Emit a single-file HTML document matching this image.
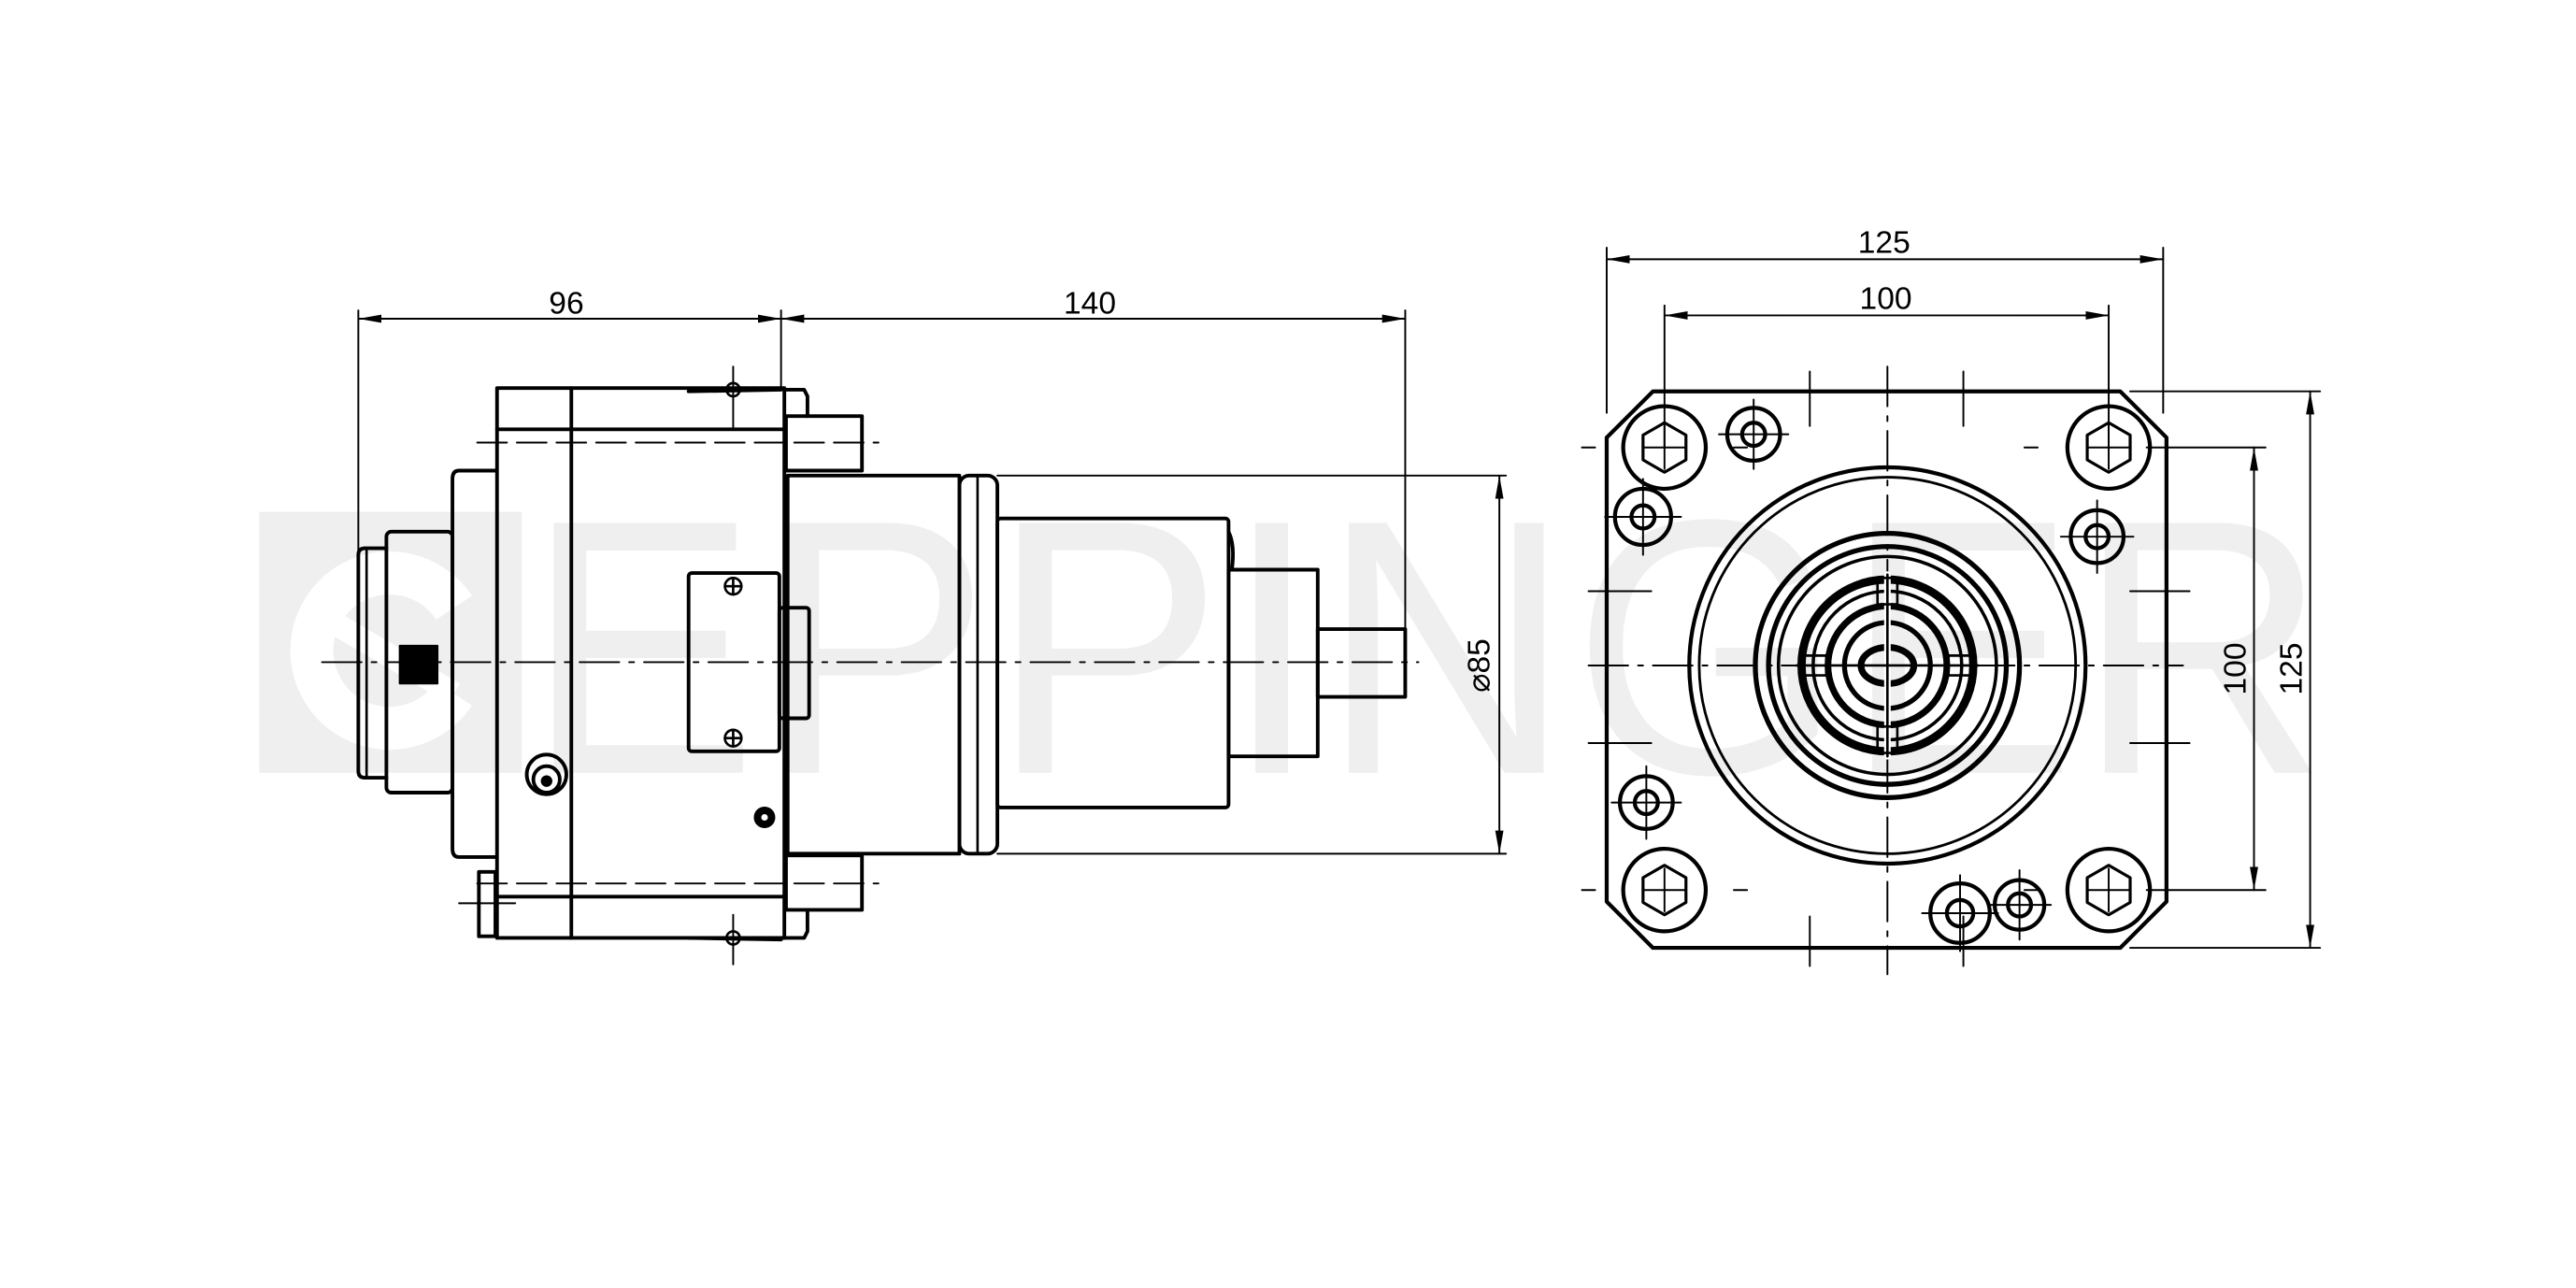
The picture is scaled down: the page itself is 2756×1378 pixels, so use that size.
<!DOCTYPE html>
<html><head><meta charset="utf-8"><style>html,body{margin:0;padding:0;background:#fff;}svg{display:block;}</style></head>
<body>
<svg width="2756" height="1378" viewBox="0 0 1560 780" xmlns="http://www.w3.org/2000/svg">
<defs>
<marker id="a" viewBox="0 0 14 6" refX="14" refY="3" markerWidth="14" markerHeight="6" markerUnits="userSpaceOnUse" orient="auto-start-reverse"><path d="M0,0.5 L14,3 L0,5.5 Z" fill="#000"/></marker>
</defs>
<rect width="1560" height="780" fill="#fff"/>
<!-- watermark -->
<g fill="#efefef">
<rect x="157" y="310" width="159" height="158"/>
<text x="318" y="468" font-family="Liberation Sans, sans-serif" font-size="220" textLength="1092" lengthAdjust="spacingAndGlyphs">EPPINGER</text>
</g>
<path d="M275,368 A47,47 0 1 0 275,420" fill="none" stroke="#fff" stroke-width="26"/>
<path d="M190,370 L275,420" stroke="#fff" stroke-width="14"/>

<g fill="none" stroke="#000" stroke-linecap="round" stroke-linejoin="round">
<!-- LEFT VIEW dims -->
<g stroke-width="1.1">
<line x1="217" y1="188" x2="217" y2="400"/>
<line x1="473" y1="188" x2="473" y2="236"/>
<line x1="851" y1="188" x2="851" y2="398"/>
<line x1="217" y1="193" x2="473" y2="193" marker-start="url(#a)" marker-end="url(#a)"/>
<line x1="473" y1="193" x2="851" y2="193" marker-start="url(#a)" marker-end="url(#a)"/>
<line x1="604" y1="288" x2="912" y2="288"/>
<line x1="604" y1="517" x2="912" y2="517"/>
<line x1="908" y1="288" x2="908" y2="517" marker-start="url(#a)" marker-end="url(#a)"/>
<line x1="195" y1="401" x2="859" y2="401" stroke-dasharray="24,6,3,6"/>
<line x1="289" y1="268" x2="532" y2="268" stroke-dasharray="18,6"/>
<line x1="289" y1="535" x2="532" y2="535" stroke-dasharray="18,6"/>
<line x1="444" y1="222" x2="444" y2="260"/>
<line x1="444" y1="554" x2="444" y2="584"/>
<line x1="278" y1="547" x2="312" y2="547"/>
</g>
<g stroke-width="2.2">
<rect x="301" y="235" width="174" height="333"/>
<line x1="346" y1="235" x2="346" y2="568"/>
<line x1="301" y1="260" x2="475" y2="260"/>
<line x1="301" y1="543" x2="475" y2="543"/>
<path d="M417,237 L473,236"/>
<path d="M417,568 L473,569"/>
<path d="M475,236 L487,236 L489,240 L489,252"/>
<path d="M475,568 L487,568 L489,564 L489,551"/>
<rect x="476" y="252" width="46" height="33"/>
<rect x="476" y="518" width="46" height="33"/>
<path d="M300,285 L278,285 Q274,285 274,290 L274,514 Q274,519 278,519 L300,519"/>
<rect x="234" y="322" width="40" height="158" rx="3"/>
<path d="M234,332 L221,332 Q217,332 217,336 L217,467 Q217,471 221,471 L234,471"/>
<line x1="222" y1="333" x2="222" y2="470" stroke-width="1.5"/>
<rect x="290" y="528" width="10" height="39"/>
<rect x="477" y="288" width="104" height="229"/>
<rect x="581" y="288" width="23" height="229" rx="6"/>
<line x1="592" y1="289" x2="592" y2="516" stroke-width="1.5"/>
<rect x="604" y="314" width="140" height="175" rx="2"/>
<path d="M744,322 Q748,330 746,345"/>
<rect x="744" y="345" width="54" height="113"/>
<rect x="798" y="381" width="53" height="41"/>
<rect x="417" y="347" width="55" height="108" rx="2"/>
<rect x="472" y="368" width="18" height="67" rx="2"/>
<circle cx="331" cy="469" r="12"/>
<circle cx="331" cy="472" r="8"/>
</g>
<circle cx="463" cy="495" r="6" fill="#000"/>
<rect x="242" y="391" width="23" height="23" fill="#000"/>
<g stroke-width="1.5">
<circle cx="444" cy="355" r="5"/><circle cx="444" cy="447" r="5"/>
<circle cx="444" cy="236" r="4"/><circle cx="444" cy="568" r="4"/>
<path d="M439,355h10M444,350v10M439,447h10M444,442v10"/>
</g>
<circle cx="331" cy="473" r="3" fill="#000"/>
<circle cx="463" cy="495" r="2" fill="#fff" stroke="none"/>

<!-- RIGHT VIEW dims -->
<g stroke-width="1.1">
<line x1="973" y1="150" x2="973" y2="250"/>
<line x1="1310" y1="150" x2="1310" y2="250"/>
<line x1="1008" y1="185" x2="1008" y2="271"/>
<line x1="1277" y1="185" x2="1277" y2="271"/>
<line x1="973" y1="157" x2="1310" y2="157" marker-start="url(#a)" marker-end="url(#a)"/>
<line x1="1008" y1="191" x2="1277" y2="191" marker-start="url(#a)" marker-end="url(#a)"/>
<line x1="1290" y1="237" x2="1405" y2="237"/>
<line x1="1290" y1="574" x2="1405" y2="574"/>
<line x1="1300" y1="271" x2="1372" y2="271"/>
<line x1="1300" y1="539" x2="1372" y2="539"/>
<line x1="1365" y1="271" x2="1365" y2="539" marker-start="url(#a)" marker-end="url(#a)"/>
<line x1="1399" y1="237" x2="1399" y2="574" marker-start="url(#a)" marker-end="url(#a)"/>
<line x1="1143" y1="222" x2="1143" y2="590" stroke-dasharray="24,6,3,6"/>
<line x1="962" y1="403" x2="1322" y2="403" stroke-dasharray="24,6,3,6"/>
<line x1="1096" y1="225" x2="1096" y2="258"/><line x1="1189" y1="225" x2="1189" y2="258"/>
<line x1="1096" y1="555" x2="1096" y2="585"/><line x1="1189" y1="555" x2="1189" y2="585"/>
<line x1="962" y1="358" x2="1000" y2="358"/><line x1="962" y1="450" x2="1000" y2="450"/>
<line x1="1290" y1="358" x2="1326" y2="358"/><line x1="1290" y1="450" x2="1326" y2="450"/>
</g>
<g stroke-width="2.4">
<path d="M1001,237 L1284,237 L1312,265 L1312,546 L1284,574 L1001,574 L973,546 L973,265 Z"/>
<circle cx="1143" cy="403" r="120"/>
<circle cx="1143" cy="403" r="114" stroke-width="1.6"/>
<circle cx="1143" cy="403" r="80" stroke-width="3"/>
<circle cx="1143" cy="403" r="72" stroke-width="3"/>
<circle cx="1143" cy="403" r="66" stroke-width="2"/>
<circle cx="1143" cy="403" r="52" stroke-width="5"/>
<circle cx="1143" cy="403" r="45" stroke-width="2"/>
<circle cx="1143" cy="403" r="36" stroke-width="4"/>
<circle cx="1143" cy="403" r="26" stroke-width="3"/>
<ellipse cx="1143" cy="403" rx="16" ry="11" stroke-width="4"/>
</g>
<g stroke-width="1.5">
<line x1="1143" y1="348" x2="1143" y2="458" stroke-width="4" stroke="#fff"/>
<rect x="1137" y="350" width="12" height="16"/><rect x="1137" y="440" width="12" height="16"/>
<rect x="1090" y="397" width="16" height="12"/><rect x="1180" y="397" width="16" height="12"/>
<line x1="1143" y1="348" x2="1143" y2="458"/><line x1="1088" y1="403" x2="1198" y2="403"/>
</g>
<!-- bolts -->
<g stroke-width="2.4">
<circle cx="1008" cy="271" r="25"/><circle cx="1277" cy="271" r="25"/>
<circle cx="1008" cy="539" r="25"/><circle cx="1277" cy="539" r="25"/>
<circle cx="1062" cy="263" r="16"/><circle cx="995" cy="313" r="17"/>
<circle cx="1270" cy="325" r="16"/><circle cx="997" cy="486" r="16"/>
<circle cx="1187" cy="553" r="18"/><circle cx="1223" cy="548" r="15"/>
<circle cx="1062" cy="263" r="7"/><circle cx="995" cy="313" r="7"/>
<circle cx="1270" cy="325" r="7"/><circle cx="997" cy="486" r="7"/>
<circle cx="1187" cy="553" r="8"/><circle cx="1223" cy="548" r="7"/>
</g>
<g stroke-width="1.8">
<path d="M1008,256 l13,7.5 v15 l-13,7.5 l-13,-7.5 v-15 z"/>
<path d="M1277,256 l13,7.5 v15 l-13,7.5 l-13,-7.5 v-15 z"/>
<path d="M1008,524 l13,7.5 v15 l-13,7.5 l-13,-7.5 v-15 z"/>
<path d="M1277,524 l13,7.5 v15 l-13,7.5 l-13,-7.5 v-15 z"/>
</g>
<g stroke-width="1.1">
<path d="M995,271h26M1008,258v26M1264,271h26M1277,258v26M995,539h26M1008,526v26M1264,539h26M1277,526v26"/>
<path d="M966,271h-8M1050,271h8M1234,271h-8M966,539h-8M1050,539h8M1234,539h-8"/>
<path d="M1041,263h42M1062,242v42M972,313h46M995,290v46M1248,325h44M1270,303v44M976,486h42M997,464v44M1164,553h46M1187,530v46M1204,548h38M1223,527v42"/>
</g>
</g>
<g font-family="Liberation Sans, DejaVu Sans, sans-serif" font-size="19" fill="#000" text-anchor="middle">
<text x="343" y="190">96</text>
<text x="660" y="190">140</text>
<text x="1141" y="153">125</text>
<text x="1142" y="187">100</text>
<text transform="translate(902,403) rotate(-90)">⌀85</text>
<text transform="translate(1360,405) rotate(-90)">100</text>
<text transform="translate(1394,405) rotate(-90)">125</text>
</g>
</svg>
</body></html>
